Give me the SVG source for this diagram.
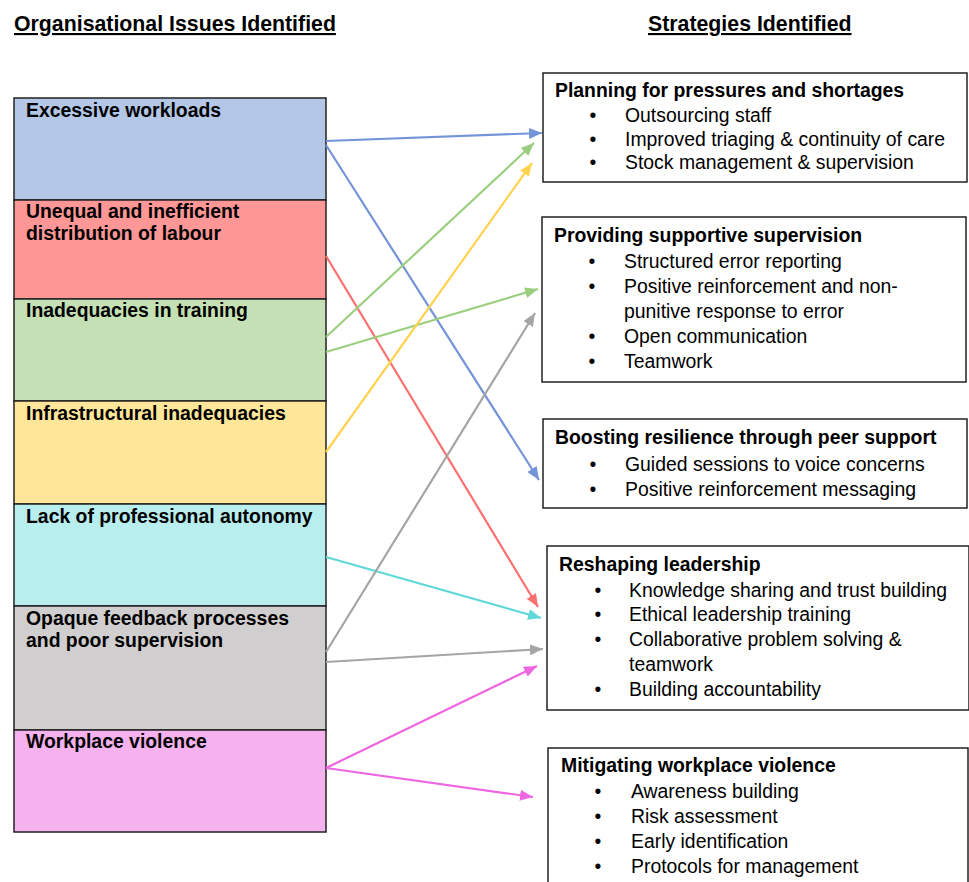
<svg xmlns="http://www.w3.org/2000/svg" width="969" height="882" viewBox="0 0 969 882">
<style>
  .hdr{font-family:"Liberation Sans",Arial,sans-serif;font-size:21.3px;font-weight:bold;fill:#000;text-decoration:underline}
  .lbl{font-family:"Liberation Sans",Arial,sans-serif;font-size:19.4px;font-weight:bold;fill:#000}
  .ttl{font-family:"Liberation Sans",Arial,sans-serif;font-size:19.4px;font-weight:bold;fill:#000}
  .itm{font-family:"Liberation Sans",Arial,sans-serif;font-size:19.4px;fill:#000}
  .bul{font-family:"Liberation Sans",Arial,sans-serif;font-size:19.4px;fill:#000;text-anchor:middle}
  .issue{stroke:#222;stroke-width:1.5}
  .strat{fill:#fff;stroke:#222;stroke-width:1.5}
  .con{fill:none;stroke-width:2.2}
</style>
<defs>
  <marker id="mBlue" viewBox="0 0 13 11" refX="13" refY="5.5" markerWidth="13" markerHeight="11" markerUnits="userSpaceOnUse" orient="auto"><path d="M0,0 L13,5.5 L0,11 z" fill="#7594d8"/></marker>
  <marker id="mRed" viewBox="0 0 13 11" refX="13" refY="5.5" markerWidth="13" markerHeight="11" markerUnits="userSpaceOnUse" orient="auto"><path d="M0,0 L13,5.5 L0,11 z" fill="#fd7070"/></marker>
  <marker id="mGreen" viewBox="0 0 13 11" refX="13" refY="5.5" markerWidth="13" markerHeight="11" markerUnits="userSpaceOnUse" orient="auto"><path d="M0,0 L13,5.5 L0,11 z" fill="#9bcf7f"/></marker>
  <marker id="mYellow" viewBox="0 0 13 11" refX="13" refY="5.5" markerWidth="13" markerHeight="11" markerUnits="userSpaceOnUse" orient="auto"><path d="M0,0 L13,5.5 L0,11 z" fill="#ffd250"/></marker>
  <marker id="mCyan" viewBox="0 0 13 11" refX="13" refY="5.5" markerWidth="13" markerHeight="11" markerUnits="userSpaceOnUse" orient="auto"><path d="M0,0 L13,5.5 L0,11 z" fill="#5fd8d8"/></marker>
  <marker id="mGray" viewBox="0 0 13 11" refX="13" refY="5.5" markerWidth="13" markerHeight="11" markerUnits="userSpaceOnUse" orient="auto"><path d="M0,0 L13,5.5 L0,11 z" fill="#a5a5a5"/></marker>
  <marker id="mPink" viewBox="0 0 13 11" refX="13" refY="5.5" markerWidth="13" markerHeight="11" markerUnits="userSpaceOnUse" orient="auto"><path d="M0,0 L13,5.5 L0,11 z" fill="#ee66e0"/></marker>
</defs>
<rect width="969" height="882" fill="#fff"/>

<text class="hdr" x="14" y="31">Organisational Issues Identified</text>
<text class="hdr" x="648" y="31">Strategies Identified</text>

<g id="issue-excessive-workloads">
  <rect class="issue" x="14" y="98" width="312" height="102" fill="#b4c7e7"/>
  <text class="lbl" x="26" y="117">Excessive workloads</text>
</g>
<g id="issue-unequal-distribution">
  <rect class="issue" x="14" y="200" width="312" height="99" fill="#ff9797"/>
  <text class="lbl" x="26" y="218">Unequal and inefficient</text>
  <text class="lbl" x="26" y="240">distribution of labour</text>
</g>
<g id="issue-training">
  <rect class="issue" x="14" y="299" width="312" height="102" fill="#c5e0b4"/>
  <text class="lbl" x="26" y="317">Inadequacies in training</text>
</g>
<g id="issue-infrastructure">
  <rect class="issue" x="14" y="401" width="312" height="103" fill="#ffe699"/>
  <text class="lbl" x="26" y="420">Infrastructural inadequacies</text>
</g>
<g id="issue-autonomy">
  <rect class="issue" x="14" y="504" width="312" height="102" fill="#b8eeee"/>
  <text class="lbl" x="26" y="523">Lack of professional autonomy</text>
</g>
<g id="issue-feedback">
  <rect class="issue" x="14" y="606" width="312" height="124" fill="#d0cece"/>
  <text class="lbl" x="26" y="625">Opaque feedback processes</text>
  <text class="lbl" x="26" y="647">and poor supervision</text>
</g>
<g id="issue-violence">
  <rect class="issue" x="14" y="730" width="312" height="102" fill="#f5b2ee"/>
  <text class="lbl" x="26" y="748">Workplace violence</text>
</g>

<g id="strategy-planning">
  <rect class="strat" x="543" y="73" width="424" height="109"/>
  <text class="ttl" x="555" y="97">Planning for pressures and shortages</text>
  <text class="bul" x="593" y="122">•</text><text class="itm" x="625" y="122">Outsourcing staff</text>
  <text class="bul" x="593" y="146">•</text><text class="itm" x="625" y="146">Improved triaging &amp; continuity of care</text>
  <text class="bul" x="593" y="169">•</text><text class="itm" x="625" y="169">Stock management &amp; supervision</text>
</g>
<g id="strategy-supervision">
  <rect class="strat" x="542" y="217" width="424" height="165"/>
  <text class="ttl" x="554" y="242">Providing supportive supervision</text>
  <text class="bul" x="592" y="268">•</text><text class="itm" x="624" y="268">Structured error reporting</text>
  <text class="bul" x="592" y="293">•</text><text class="itm" x="624" y="293">Positive reinforcement and non-</text>
  <text class="itm" x="624" y="318">punitive response to error</text>
  <text class="bul" x="592" y="343">•</text><text class="itm" x="624" y="343">Open communication</text>
  <text class="bul" x="592" y="368">•</text><text class="itm" x="624" y="368">Teamwork</text>
</g>
<g id="strategy-resilience">
  <rect class="strat" x="543" y="419" width="424" height="89"/>
  <text class="ttl" x="555" y="444">Boosting resilience through peer support</text>
  <text class="bul" x="593" y="471">•</text><text class="itm" x="625" y="471">Guided sessions to voice concerns</text>
  <text class="bul" x="593" y="496">•</text><text class="itm" x="625" y="496">Positive reinforcement messaging</text>
</g>
<g id="strategy-leadership">
  <rect class="strat" x="547" y="546" width="422" height="164"/>
  <text class="ttl" x="559" y="571">Reshaping leadership</text>
  <text class="bul" x="598" y="597">•</text><text class="itm" x="629" y="597">Knowledge sharing and trust building</text>
  <text class="bul" x="598" y="621">•</text><text class="itm" x="629" y="621">Ethical leadership training</text>
  <text class="bul" x="598" y="646">•</text><text class="itm" x="629" y="646">Collaborative problem solving &amp;</text>
  <text class="itm" x="629" y="671">teamwork</text>
  <text class="bul" x="598" y="696">•</text><text class="itm" x="629" y="696">Building accountability</text>
</g>
<g id="strategy-violence">
  <rect class="strat" x="548" y="748" width="420" height="140"/>
  <text class="ttl" x="561" y="772">Mitigating workplace violence</text>
  <text class="bul" x="598" y="798">•</text><text class="itm" x="631" y="798">Awareness building</text>
  <text class="bul" x="598" y="823">•</text><text class="itm" x="631" y="823">Risk assessment</text>
  <text class="bul" x="598" y="848">•</text><text class="itm" x="631" y="848">Early identification</text>
  <text class="bul" x="598" y="873">•</text><text class="itm" x="631" y="873">Protocols for management</text>
</g>

<g id="connectors">
  <line class="con" stroke="#7594d8" marker-end="url(#mBlue)" x1="326" y1="141" x2="542" y2="133"/>
  <line class="con" stroke="#7594d8" marker-end="url(#mBlue)" x1="326" y1="145" x2="539" y2="480"/>
  <line class="con" stroke="#fd7070" marker-end="url(#mRed)" x1="326" y1="256" x2="538" y2="607"/>
  <line class="con" stroke="#9bcf7f" marker-end="url(#mGreen)" x1="326" y1="337" x2="534" y2="143"/>
  <line class="con" stroke="#9bcf7f" marker-end="url(#mGreen)" x1="326" y1="352" x2="538" y2="289"/>
  <line class="con" stroke="#ffd250" marker-end="url(#mYellow)" x1="326" y1="452" x2="532" y2="163"/>
  <line class="con" stroke="#5fd8d8" marker-end="url(#mCyan)" x1="326" y1="557" x2="541" y2="618"/>
  <line class="con" stroke="#a5a5a5" marker-end="url(#mGray)" x1="326" y1="652" x2="535" y2="313"/>
  <line class="con" stroke="#a5a5a5" marker-end="url(#mGray)" x1="326" y1="662" x2="543" y2="649"/>
  <line class="con" stroke="#ee66e0" marker-end="url(#mPink)" x1="326" y1="768" x2="537" y2="666"/>
  <line class="con" stroke="#ee66e0" marker-end="url(#mPink)" x1="326" y1="768" x2="533" y2="797"/>
</g>
</svg>
